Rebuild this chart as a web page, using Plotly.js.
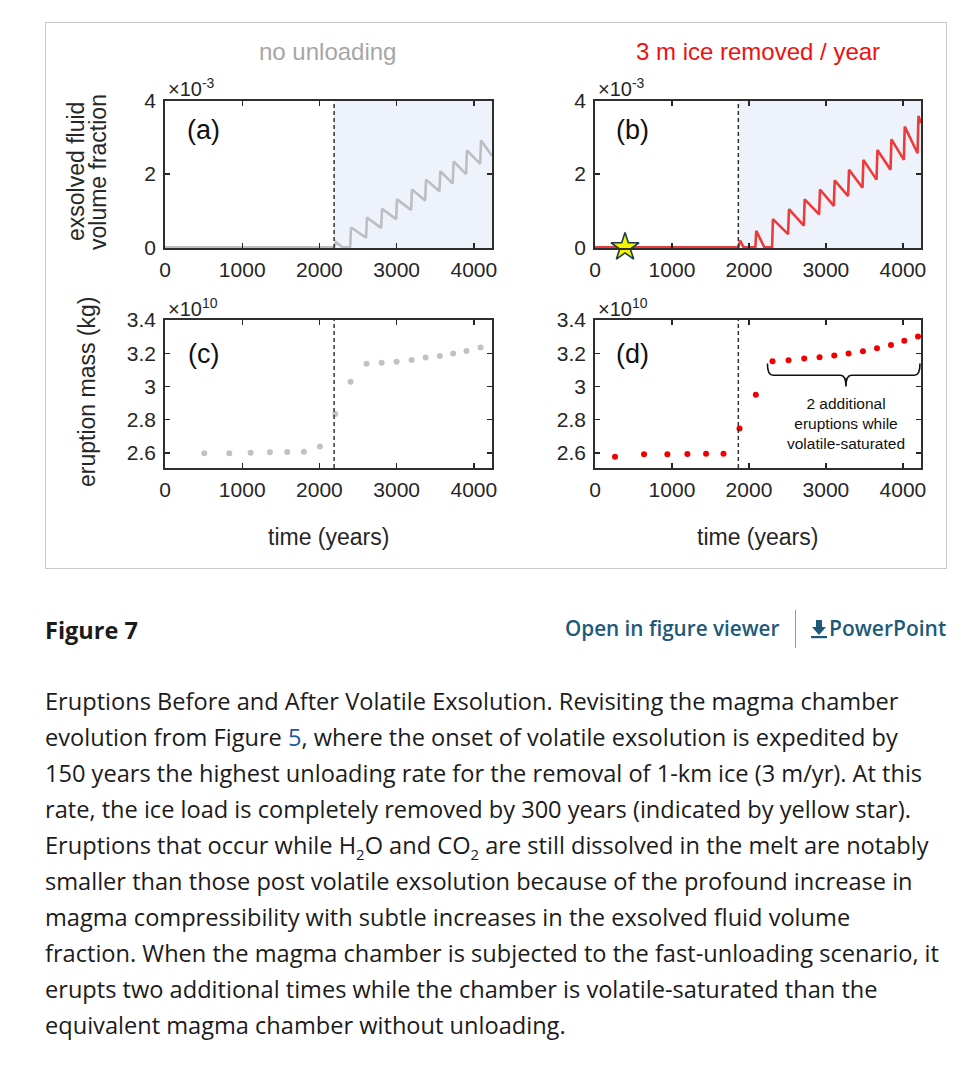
<!DOCTYPE html>
<html>
<head>
<meta charset="utf-8">
<script src="https://cdn.plot.ly/plotly-3.0.1.min.js"></script>
<style>
html,body{margin:0;padding:0;background:#fff;}
#page{position:relative;width:973px;height:1084px;overflow:hidden;font-family:'Open Sans',sans-serif;color:#1b1b1b;}
#frame{position:absolute;left:45px;top:22px;width:900px;height:545px;border:1px solid #c9c9c9;}
#plot{position:absolute;left:0;top:0;width:973px;height:580px;}
#figlabel{position:absolute;left:45px;top:614px;font-weight:700;font-size:23.5px;line-height:32px;}
#viewer{position:absolute;left:565px;top:612px;font-weight:600;font-size:20.7px;line-height:32px;color:#1d5a7a;white-space:nowrap;}
#sep{position:absolute;left:795px;top:610px;width:1px;height:38px;background:#9a9a9a;}
#ppt{position:absolute;left:810px;top:612px;font-weight:600;font-size:21px;line-height:32px;color:#1d5a7a;white-space:nowrap;}
#ppt svg{vertical-align:-3px;margin-right:1px;}
#caption{position:absolute;left:45px;top:683px;font-size:23.6px;line-height:36px;white-space:nowrap;transform-origin:0 0;}
#caption .lnk{color:#1d5a9a;}
#caption sub{font-size:15px;line-height:0;}
</style>
</head>
<body>
<div id="page">
  <div id="frame"></div>
  <div id="plot"></div>
  <div id="figlabel">Figure 7</div>
  <div id="viewer">Open in figure viewer</div>
  <div id="sep"></div>
  <div id="ppt"><svg width="18" height="20" viewBox="0 0 18 20"><path d="M6 1h6v7h4l-7 8-7-8h4z" fill="#1d5a7a"/><rect x="1" y="17" width="16" height="2.2" fill="#1d5a7a"/></svg>PowerPoint</div>
  <div id="caption">Eruptions Before and After Volatile Exsolution. Revisiting the magma chamber<br>evolution from Figure <span class="lnk">5</span>, where the onset of volatile exsolution is expedited by<br>150 years the highest unloading rate for the removal of 1-km ice (3 m/yr). At this<br>rate, the ice load is completely removed by 300 years (indicated by yellow star).<br>Eruptions that occur while H<sub>2</sub>O and CO<sub>2</sub> are still dissolved in the melt are notably<br>smaller than those post volatile exsolution because of the profound increase in<br>magma compressibility with subtle increases in the exsolved fluid volume<br>fraction. When the magma chamber is subjected to the fast-unloading scenario, it<br>erupts two additional times while the chamber is volatile-saturated than the<br>equivalent magma chamber without unloading.</div>
</div>
<script>
// ---------------- data ----------------
// Panel (a): no unloading — exsolved fluid volume fraction (×10^-3)
const timeA = [0, 2190, 2215, 2300, 2398, 2410, 2604, 2616, 2799, 2811, 2993, 3005, 3187, 3199, 3369, 3381, 3554, 3566, 3726, 3738, 3899, 3911, 4081, 4093, 4235];
const fracA = [0, 0, 0.14, 0, 0, 0.54, 0.26, 0.81, 0.53, 1.05, 0.77, 1.31, 1.02, 1.58, 1.28, 1.85, 1.53, 2.08, 1.74, 2.35, 2.00, 2.65, 2.28, 2.92, 2.50];
// Panel (b): 3 m ice removed / year — exsolved fluid volume fraction (×10^-3)
const timeB = [0, 1862, 1885, 1930, 2083, 2095, 2200, 2300, 2312, 2508, 2520, 2712, 2724, 2911, 2923, 3102, 3114, 3288, 3300, 3475, 3487, 3657, 3669, 3839, 3851, 4012, 4024, 4190, 4202, 4235];
const fracB = [0, 0, 0.18, 0, 0, 0.45, 0, 0, 0.77, 0.36, 1.04, 0.59, 1.31, 0.90, 1.58, 1.13, 1.83, 1.40, 2.12, 1.63, 2.39, 1.85, 2.66, 2.12, 2.95, 2.39, 3.30, 2.57, 3.59, 3.40];
// Panel (c): eruption mass, no unloading (×10^10 kg)
const timeC = [509, 833, 1109, 1359, 1583, 1799, 2006, 2205, 2403, 2610, 2805, 2999, 3193, 3375, 3560, 3732, 3905, 4087];
const massC = [2.598, 2.598, 2.602, 2.604, 2.606, 2.608, 2.640, 2.834, 3.028, 3.137, 3.143, 3.149, 3.160, 3.174, 3.184, 3.198, 3.214, 3.234];
// Panel (d): eruption mass, 3 m/yr unloading (×10^10 kg)
const timeD = [260, 637, 940, 1200, 1443, 1669, 1877, 2089, 2306, 2514, 2718, 2917, 3108, 3294, 3481, 3663, 3845, 4018, 4196];
const massD = [2.578, 2.592, 2.592, 2.594, 2.596, 2.596, 2.747, 2.951, 3.152, 3.158, 3.168, 3.176, 3.186, 3.198, 3.212, 3.230, 3.250, 3.275, 3.301];
// onset of volatile exsolution (dashed lines) and ice fully removed (star)
const onsetNoUnload = 2190;
const onsetUnload = 1862;
const starTime = [390];
const starFrac = [0];
// ticks
const tickYears = [0, 1000, 2000, 3000, 4000];
const tickFrac = [0, 2, 4];
const tickFracText = ['0', '2', '4'];
const tickMass = [2.6, 2.8, 3.0, 3.2, 3.4];
const tickMassText = ['2.6', '2.8', '3', '3.2', '3.4'];
// texts
const titleLeft = 'no unloading';
const titleRight = '3 m ice removed / year';
const yTitleTop = ['exsolved fluid', 'volume fraction'];
const yTitleBottom = 'eruption mass (kg)';
const xTitle = 'time (years)';
const braceText = '2 additional<br>eruptions while<br>volatile-saturated';

// ---------------- layout helpers ----------------
const W = 973, H = 580;
const px = v => v / W;
const py = v => 1 - v / H;
const FONT = 'Liberation Sans, Arial, Helvetica, sans-serif';
const INK = '#262626';
const XMAX = 4235;

function xax(dom, anchor) {
  return {domain: dom, anchor: anchor, range: [0, XMAX], tickvals: tickYears, ticktext: tickYears.map(String),
    ticks: 'inside', ticklen: 5, tickwidth: 1.3, tickcolor: INK, showline: true, linecolor: '#2e2e2e', linewidth: 1.8,
    mirror: 'ticks', showgrid: false, zeroline: false, ticklabelstandoff: 2,
    tickfont: {family: FONT, size: 21, color: INK}, fixedrange: true};
}
function yax(dom, anchor, range, vals, text) {
  return {domain: dom, anchor: anchor, range: range, tickvals: vals, ticktext: text,
    ticks: 'inside', ticklen: 5, tickwidth: 1.3, tickcolor: INK, showline: true, linecolor: '#2e2e2e', linewidth: 1.8,
    mirror: 'ticks', showgrid: false, zeroline: false, ticklabelstandoff: 3,
    tickfont: {family: FONT, size: 21, color: INK}, fixedrange: true};
}

const domXL = [px(165), px(492)];
const domXR = [px(595), px(921)];
const domYT = [py(248), py(101)];
const domYB = [py(468), py(320)];

const traces = [
  {x: timeA, y: fracA, xaxis: 'x', yaxis: 'y', mode: 'lines', line: {color: '#bcbec2', width: 2.6}, hoverinfo: 'skip'},
  {x: timeB, y: fracB, xaxis: 'x2', yaxis: 'y2', mode: 'lines', line: {color: '#ec3b3b', width: 2.6}, hoverinfo: 'skip'},
  {x: starTime, y: starFrac, xaxis: 'x2', yaxis: 'y2', mode: 'markers', cliponaxis: false,
    marker: {symbol: 'star', size: 21, color: '#f6f600', line: {color: '#1c3a4a', width: 1.6}}, hoverinfo: 'skip'},
  {x: timeC, y: massC, xaxis: 'x3', yaxis: 'y3', mode: 'markers', marker: {size: 6, color: '#c2c2c2'}, hoverinfo: 'skip'},
  {x: timeD, y: massD, xaxis: 'x4', yaxis: 'y4', mode: 'markers', marker: {size: 6, color: '#f00000'}, hoverinfo: 'skip'}
];

const shapes = [];
function shade(xr, yr, x0) {
  shapes.push({type: 'rect', xref: xr, yref: yr + ' domain', x0: x0, x1: XMAX, y0: 0, y1: 1,
    fillcolor: '#eef3fb', line: {width: 0}, layer: 'below'});
}
function dashed(xr, yr, x0) {
  shapes.push({type: 'line', xref: xr, yref: yr + ' domain', x0: x0, x1: x0, y0: 0, y1: 1,
    line: {color: '#333', width: 1.5, dash: '4px,3px'}});
}
shade('x', 'y', onsetNoUnload);
shade('x2', 'y2', onsetUnload);
dashed('x', 'y', onsetNoUnload);
dashed('x2', 'y2', onsetUnload);
dashed('x3', 'y3', onsetNoUnload);
dashed('x4', 'y4', onsetUnload);
// curly brace over the volatile-saturated eruptions in (d)
const bx0 = 2240, bx1 = 4222, bxm = 3260, byTop = 3.138, byMid = 3.068, byTip = 3.0;
shapes.push({type: 'path', xref: 'x4', yref: 'y4', line: {color: '#111', width: 1.6},
  path: `M ${bx0},${byTop} Q ${bx0},${byMid} ${bx0 + 70},${byMid} L ${bxm - 70},${byMid} Q ${bxm},${byMid} ${bxm},${byTip} ` +
        `Q ${bxm},${byMid} ${bxm + 70},${byMid} L ${bx1 - 70},${byMid} Q ${bx1},${byMid} ${bx1},${byTop}`});

const ann = [];
function txt(x, y, text, size, color, opts) {
  ann.push(Object.assign({xref: 'paper', yref: 'paper', x: x, y: y, text: text, showarrow: false,
    font: {family: FONT, size: size, color: color}, xanchor: 'center', yanchor: 'middle'}, opts || {}));
}
txt(px(327), py(52), titleLeft, 24, '#a6a6a6');
txt(px(758), py(52), titleRight, 24, '#f01010');
txt(px(76), py(172), yTitleTop[0], 23, INK, {textangle: -90});
txt(px(98), py(172), yTitleTop[1], 23, INK, {textangle: -90});
txt(px(87), py(392), yTitleBottom, 23, INK, {textangle: -90});
txt(px(328), py(537), xTitle, 23, INK);
txt(px(757), py(537), xTitle, 23, INK);
txt(px(203), py(130), '(a)', 27, '#111');
txt(px(632), py(130), '(b)', 27, '#111');
txt(px(203), py(354), '(c)', 27, '#111');
txt(px(632), py(354), '(d)', 27, '#111');
txt(px(166), py(87), '×10<sup>-3</sup>', 20, INK, {xanchor: 'left'});
txt(px(596), py(87), '×10<sup>-3</sup>', 20, INK, {xanchor: 'left'});
txt(px(166), py(307), '×10<sup>10</sup>', 20, INK, {xanchor: 'left'});
txt(px(596), py(307), '×10<sup>10</sup>', 20, INK, {xanchor: 'left'});
ann.push({xref: 'x4', yref: 'y4', x: bxm, y: 2.775, text: braceText, showarrow: false,
  font: {family: FONT, size: 15.5, color: '#111'}, xanchor: 'center', yanchor: 'middle', align: 'center'});

const layout = {
  width: W, height: H, margin: {l: 0, r: 0, t: 0, b: 0},
  paper_bgcolor: 'rgba(0,0,0,0)', plot_bgcolor: 'rgba(0,0,0,0)',
  showlegend: false,
  xaxis: xax(domXL, 'y'),
  yaxis: yax(domYT, 'x', [-0.02, 4], tickFrac, tickFracText),
  xaxis2: xax(domXR, 'y2'),
  yaxis2: yax(domYT, 'x2', [-0.02, 4], tickFrac, tickFracText),
  xaxis3: xax(domXL, 'y3'),
  yaxis3: yax(domYB, 'x3', [2.51, 3.4], tickMass, tickMassText),
  xaxis4: xax(domXR, 'y4'),
  yaxis4: yax(domYB, 'x4', [2.51, 3.4], tickMass, tickMassText),
  shapes: shapes,
  annotations: ann
};
Plotly.newPlot('plot', traces, layout, {staticPlot: true, displayModeBar: false}).then(gd => {
  // drop the empty axis-title placeholders Plotly leaves behind
  gd.querySelectorAll('.g-xtitle, .g-ytitle, .g-x2title, .g-y2title, .g-x3title, .g-y3title, .g-x4title, .g-y4title, .gtitle')
    .forEach(el => { if (!el.textContent.trim()) el.remove(); });
});
</script>
</body>
</html>
